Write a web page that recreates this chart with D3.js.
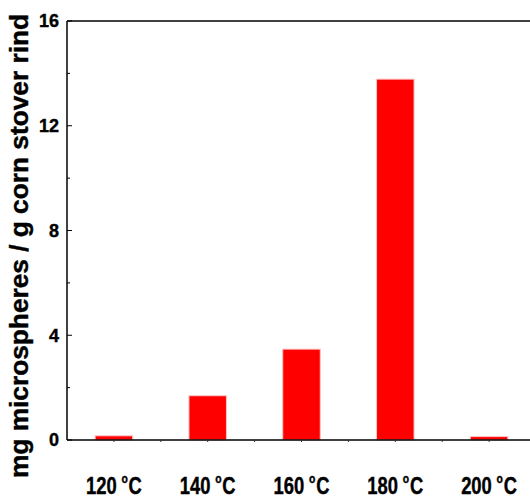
<!DOCTYPE html>
<html>
<head>
<meta charset="utf-8">
<script src="https://cdn.jsdelivr.net/npm/d3@7/dist/d3.min.js"></script>
<style>
  body { margin: 0; background: #fff; }
  svg { display: block; font-family: "Liberation Sans", Arial, sans-serif; font-weight: bold; }
  text { stroke: #000; stroke-width: 0.4px; }
</style>
</head>
<body>
<svg id="chart" width="530" height="497"></svg>
<script>
// values
const temps = ["120", "140", "160", "180", "200"];
const yields = [0.16, 1.69, 3.47, 13.78, 0.13];
const yTicks = [0, 4, 8, 12, 16];
const yMinorTicks = [2, 6, 10, 14];

const svg = d3.select("#chart");
const plotLeft = 67, plotRight = 536, plotTop = 21, plotBottom = 440;

const x = d3.scaleBand().domain(temps).range([plotLeft, plotRight]).paddingInner(0.6).paddingOuter(0.3);
const y = d3.scaleLinear().domain([0, 16]).range([plotBottom, plotTop]);

// bars
svg.selectAll("rect.bar")
    .data(temps)
    .enter().append("rect")
    .attr("class", "bar")
    .attr("x", (d) => x(d))
    .attr("width", x.bandwidth())
    .attr("y", (d, i) => y(yields[i]))
    .attr("height", (d, i) => plotBottom - y(yields[i]))
    .attr("fill", "#ff0000")
    .attr("stroke", "#ffc4c4")
    .attr("stroke-width", 1);

// frame line on top
svg.append("line").attr("x1", plotLeft).attr("x2", plotRight).attr("y1", plotTop).attr("y2", plotTop)
    .attr("stroke", "#000").attr("stroke-width", 1.5);

// y axis, ticks pointing in
const yAxis = svg.append("g").attr("transform", `translate(${plotLeft},0)`);
yAxis.append("line").attr("y1", plotTop).attr("y2", plotBottom).attr("stroke", "#000").attr("stroke-width", 1.5);
yAxis.selectAll("line.major").data(yTicks).enter().append("line")
    .attr("class", "major").attr("x1", 0).attr("x2", 5)
    .attr("y1", (d) => y(d)).attr("y2", (d) => y(d)).attr("stroke", "#000");
yAxis.selectAll("line.minor").data(yMinorTicks).enter().append("line")
    .attr("class", "minor").attr("x1", 0).attr("x2", 3)
    .attr("y1", (d) => y(d)).attr("y2", (d) => y(d)).attr("stroke", "#000");
yAxis.selectAll("text").data(yTicks).enter().append("text")
    .attr("x", -8).attr("y", (d) => y(d)).attr("dy", "0.36em")
    .attr("text-anchor", "end").attr("font-size", 18)
    .text((d) => d);

// x axis
const step = x.step();
const xAxis = svg.append("g");
xAxis.append("line").attr("x1", plotLeft).attr("x2", plotRight).attr("y1", plotBottom).attr("y2", plotBottom)
    .attr("stroke", "#000").attr("stroke-width", 1.5);
const tickXs = [];
temps.forEach((d) => {
    const c = x(d) + x.bandwidth() / 2;
    tickXs.push(c, c + step / 2);
});
xAxis.selectAll("line.tick").data(tickXs).enter().append("line")
    .attr("class", "tick").attr("x1", (d) => d).attr("x2", (d) => d)
    .attr("y1", plotBottom).attr("y2", plotBottom + 2).attr("stroke", "#333");

const labels = xAxis.selectAll("g.label").data(temps).enter().append("g")
    .attr("class", "label")
    .attr("transform", (d) => `translate(${x(d) + x.bandwidth() / 2},494) scale(0.8,1)`);
const lt = labels.append("text").attr("text-anchor", "middle").attr("font-size", 23);
lt.append("tspan").text((d) => d);
lt.append("tspan").attr("font-size", 13).attr("dx", 6).attr("dy", -11).text("o");
lt.append("tspan").attr("dx", 1).attr("dy", 11).text("C");

// y title
svg.append("text")
    .attr("transform", "translate(28,246) rotate(-90)")
    .attr("text-anchor", "middle")
    .attr("font-size", 25)
    .attr("textLength", 464)
    .attr("lengthAdjust", "spacingAndGlyphs")
    .text("mg microspheres / g corn stover rind");
</script>
</body>
</html>
